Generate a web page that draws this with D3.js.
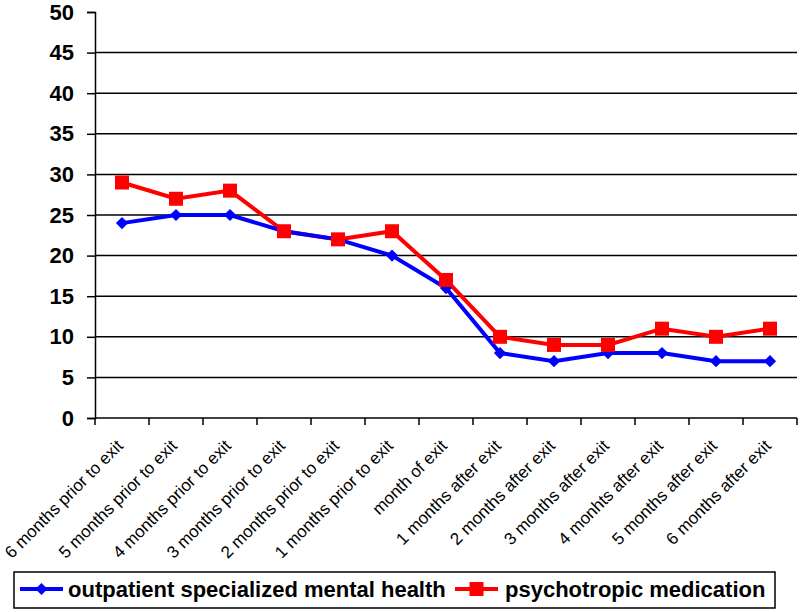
<!DOCTYPE html>
<html><head><meta charset="utf-8">
<script src="https://cdn.jsdelivr.net/npm/d3@7"></script>
<style>body{margin:0;background:#fff}svg{display:block}</style>
</head><body>
<svg id="c" width="800" height="612"></svg>
<script>
const categories = ["6 months prior to exit","5 months prior to exit","4 months prior to exit","3 months prior to exit","2 months prior to exit","1 months prior to exit","month of exit","1 months after exit","2 months after exit","3 months after exit","4 monhts after exit","5 months after exit","6 months after exit"];
const outpatient = [24,25,25,23,22,20,16,8,7,8,8,7,7];
const medication = [29,27,28,23,22,23,17,10,9,9,11,10,11];
const yTicks = [0,5,10,15,20,25,30,35,40,45,50];
const seriesNames = ["outpatient specialized mental health","psychotropic medication"];

(function(){
const svg = d3.select("#c");
const pl = 95, pr = 797, pt = 12, pb = 418;
const x = d3.scaleBand().domain(categories).range([pl, pr]);
const y = d3.scaleLinear().domain([0,50]).range([pb, pt]);
const font = "Liberation Sans, Arial, sans-serif";

// gridlines
svg.append("g").selectAll("line").data(yTicks.filter(d => d > 0 && d < 50)).join("line")
  .attr("x1", pl).attr("x2", pr).attr("y1", d => y(d)).attr("y2", d => y(d))
  .attr("stroke", "#000").attr("stroke-width", 1.5);

// y axis
const ya = svg.append("g").attr("transform", `translate(${pl},0)`)
  .call(d3.axisLeft(y).tickValues(yTicks).tickSize(8).tickPadding(13));
ya.select(".domain").attr("stroke-width", 1.5);
ya.selectAll(".tick line").attr("stroke-width", 1.5);
ya.selectAll("text").attr("font-family", font).attr("font-size", 22).attr("font-weight", "bold").attr("fill", "#000");

// x axis
const xa = svg.append("g").attr("transform", `translate(0,${pb})`)
  .call(d3.axisBottom(x).tickSize(0).tickFormat(() => ""));
xa.select(".domain").attr("stroke-width", 1.5).attr("d", `M${pl},0H${pr}`);
svg.append("g").selectAll("line").data(d3.range(categories.length + 1)).join("line")
  .attr("x1", i => pl + i * x.step()).attr("x2", i => pl + i * x.step())
  .attr("y1", pb).attr("y2", pb + 7).attr("stroke", "#000").attr("stroke-width", 1.5);

svg.append("g").selectAll("text").data(categories).join("text")
  .attr("transform", d => `translate(${x(d) + x.bandwidth()/2 + 2},${pb + 29}) rotate(-45)`)
  .attr("text-anchor", "end").attr("font-family", font).attr("font-size", 17).text(d => d);

const cx = d => x(d) + x.bandwidth()/2;
const line = d3.line().x((d,i) => cx(categories[i])).y(d => y(d));

svg.append("path").datum(medication).attr("d", line).attr("fill", "none").attr("stroke", "#ff0000").attr("stroke-width", 4);
svg.append("path").datum(outpatient).attr("d", line).attr("fill", "none").attr("stroke", "#0000ff").attr("stroke-width", 4);
svg.append("g").selectAll("path").data(outpatient).join("path")
  .attr("d", d3.symbol(d3.symbolDiamond2, 95)).attr("fill", "#0000ff")
  .attr("transform", (d,i) => `translate(${cx(categories[i])},${y(d)})`);
svg.append("g").selectAll("rect").data(medication).join("rect")
  .attr("x", (d,i) => cx(categories[i]) - 7).attr("y", d => y(d) - 7)
  .attr("width", 14).attr("height", 14).attr("fill", "#ff0000");

// legend
const lg = svg.append("g");
lg.append("rect").attr("x", 14).attr("y", 572).attr("width", 761).attr("height", 36)
  .attr("fill", "#fff").attr("stroke", "#000").attr("stroke-width", 1.5);
const ly = 589;
lg.append("line").attr("x1", 20).attr("x2", 63).attr("y1", ly).attr("y2", ly).attr("stroke", "#0000ff").attr("stroke-width", 4);
lg.append("path").attr("d", d3.symbol(d3.symbolDiamond2, 95)).attr("fill", "#0000ff").attr("transform", `translate(41.5,${ly})`);
lg.append("text").attr("x", 68).attr("y", 597).attr("font-family", font).attr("font-size", 22).attr("font-weight", "bold").text(seriesNames[0]);
lg.append("line").attr("x1", 455).attr("x2", 498).attr("y1", ly).attr("y2", ly).attr("stroke", "#ff0000").attr("stroke-width", 4);
lg.append("rect").attr("x", 469.5).attr("y", ly - 7).attr("width", 14).attr("height", 14).attr("fill", "#ff0000");
lg.append("text").attr("x", 505).attr("y", 597).attr("font-family", font).attr("font-size", 22).attr("font-weight", "bold").text(seriesNames[1]);
})();
</script>
</body></html>
